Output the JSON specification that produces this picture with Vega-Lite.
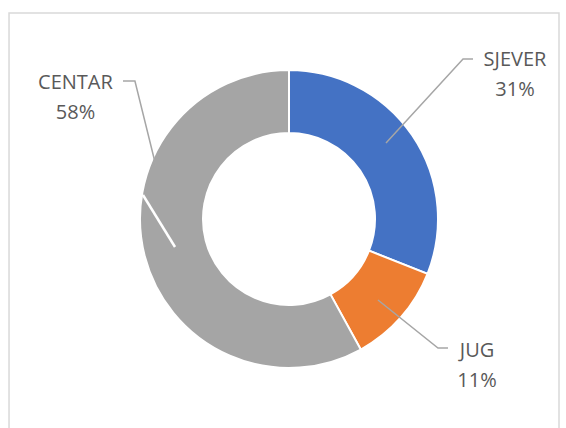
{
  "$schema": "https://vega.github.io/schema/vega-lite/v6.json",
  "width": 554,
  "height": 418,
  "autosize": {"type": "none"},
  "padding": {"left": 12, "top": 10, "right": 0, "bottom": 0},
  "background": "white",
  "config": {"view": {"stroke": null}},
  "datasets": {
    "slices": [
      {"region": "SJEVER", "share": 31, "ord": 1},
      {"region": "JUG", "share": 11, "ord": 2},
      {"region": "CENTAR", "share": 58, "ord": 3}
    ],
    "labels": [
      {"label": "SJEVER\n31%", "u": 1.517, "v": 1.067},
      {"label": "JUG\n11%", "u": 1.262, "v": -0.886},
      {"label": "CENTAR\n58%", "u": -1.433, "v": 0.913}
    ],
    "leaders": [
      {"seg": "SJEVER", "k": 1, "u": 0.651, "v": 0.51},
      {"seg": "SJEVER", "k": 2, "u": 1.168, "v": 1.074},
      {"seg": "SJEVER", "k": 3, "u": 1.235, "v": 1.074},
      {"seg": "JUG", "k": 1, "u": 0.597, "v": -0.544},
      {"seg": "JUG", "k": 2, "u": 1.0, "v": -0.866},
      {"seg": "JUG", "k": 3, "u": 1.067, "v": -0.866},
      {"seg": "CENTAR", "k": 1, "u": -1.114, "v": 0.926},
      {"seg": "CENTAR", "k": 2, "u": -1.034, "v": 0.926},
      {"seg": "CENTAR", "k": 3, "u": -0.893, "v": 0.356}
    ],
    "streak": [
      {"k": 1, "u": -0.98, "v": 0.161},
      {"k": 2, "u": -0.765, "v": -0.188}
    ],
    "frame": [
      {"x1": -1.879, "x2": 1.812, "y1": 1.383, "y2": -1.483}
    ]
  },
  "layer": [
    {
      "data": {"name": "frame"},
      "mark": {"type": "rect", "fillOpacity": 0, "stroke": "#d9d9d9", "strokeWidth": 1.5},
      "encoding": {
        "x": {"field": "x1", "type": "quantitative", "scale": {"domain": [-1.859, 1.859], "nice": false, "zero": false}, "axis": null},
        "x2": {"field": "x2"},
        "y": {"field": "y1", "type": "quantitative", "scale": {"domain": [-1.403, 1.403], "nice": false, "zero": false}, "axis": null},
        "y2": {"field": "y2"}
      }
    },
    {
      "data": {"name": "slices"},
      "mark": {"type": "arc", "outerRadius": 149, "innerRadius": 86, "stroke": "white", "strokeWidth": 2},
      "encoding": {
        "theta": {"field": "share", "type": "quantitative", "stack": true},
        "order": {"field": "ord", "type": "quantitative"},
        "color": {
          "field": "region",
          "type": "nominal",
          "scale": {"domain": ["SJEVER", "JUG", "CENTAR"], "range": ["#4472C4", "#ED7D31", "#A5A5A5"]},
          "legend": null
        }
      }
    },
    {
      "data": {"name": "streak"},
      "mark": {"type": "line", "color": "white", "strokeWidth": 2.5},
      "encoding": {
        "x": {"field": "u", "type": "quantitative"},
        "y": {"field": "v", "type": "quantitative"},
        "order": {"field": "k"}
      }
    },
    {
      "data": {"name": "leaders"},
      "mark": {"type": "line", "color": "#a6a6a6", "strokeWidth": 1.5},
      "encoding": {
        "x": {"field": "u", "type": "quantitative"},
        "y": {"field": "v", "type": "quantitative"},
        "detail": {"field": "seg"},
        "order": {"field": "k"}
      }
    },
    {
      "data": {"name": "labels"},
      "mark": {"type": "text", "font": "Open Sans", "fontSize": 20, "color": "#595959", "align": "center", "baseline": "middle", "lineBreak": "\n", "lineHeight": 30},
      "encoding": {
        "x": {"field": "u", "type": "quantitative"},
        "y": {"field": "v", "type": "quantitative"},
        "text": {"field": "label"}
      }
    }
  ]
}
